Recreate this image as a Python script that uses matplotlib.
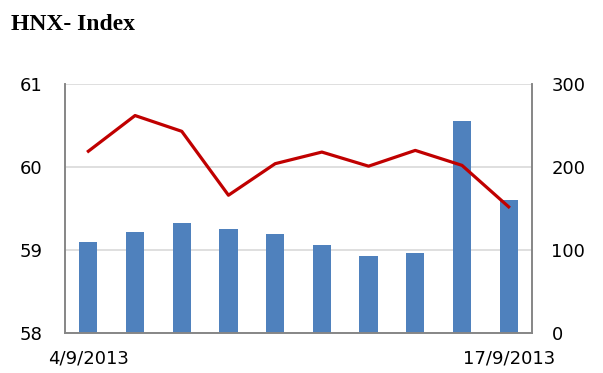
import matplotlib.pyplot as plt

# datos
fechas = ['4/9/2013', '5/9/2013', '6/9/2013', '9/9/2013', '10/9/2013',
          '11/9/2013', '12/9/2013', '13/9/2013', '16/9/2013', '17/9/2013']
volumen = [109.6, 121.2, 132.6, 125.7, 119.3, 105.5, 93.3, 96.2, 255.8, 160.8]
indice = [60.19, 60.62, 60.43, 59.66, 60.04, 60.18, 60.01, 60.20, 60.02, 59.52]

fig = plt.figure(figsize=(6.03, 3.73), dpi=100)
ax = fig.add_axes([0.1078, 0.1072, 0.7745, 0.6676])
ax2 = ax.twinx()

x = list(range(len(fechas)))

# barras (eje derecho)
ax2.bar(x, volumen, width=0.39, color='#4f81bd', zorder=2)
ax2.set_ylim(0, 300)
ax2.set_yticks([0, 100, 200, 300])
ax2.grid(axis='y', color='#d9d9d9', linewidth=1.2, zorder=0)
ax2.set_axisbelow(True)

# linea (eje izquierdo)
ax.plot(x, indice, color='#c00000', linewidth=2.3, zorder=3)
ax.set_ylim(58, 61)
ax.set_yticks([58, 59, 60, 61])
ax.set_xlim(-0.5, len(fechas) - 0.5)
ax.set_xticks([0, len(fechas) - 1])
ax.set_xticklabels([fechas[0], fechas[-1]])
ax.set_zorder(ax2.get_zorder() + 1)
ax.patch.set_visible(False)

for a in (ax, ax2):
    a.spines['top'].set_visible(False)
    for s in ('left', 'right', 'bottom'):
        a.spines[s].set_color('#868686')
        a.spines[s].set_linewidth(1.2)
    a.tick_params(length=0, labelsize=13, colors='black')

ax.tick_params(axis='y', pad=16)
ax.tick_params(axis='x', pad=12)
ax2.tick_params(axis='y', pad=14)

fig.text(0.018, 0.935, 'HNX- Index', fontsize=17, fontweight='bold',
         family='Liberation Serif', va='center', ha='left')

plt.savefig('out.png', dpi=100)
